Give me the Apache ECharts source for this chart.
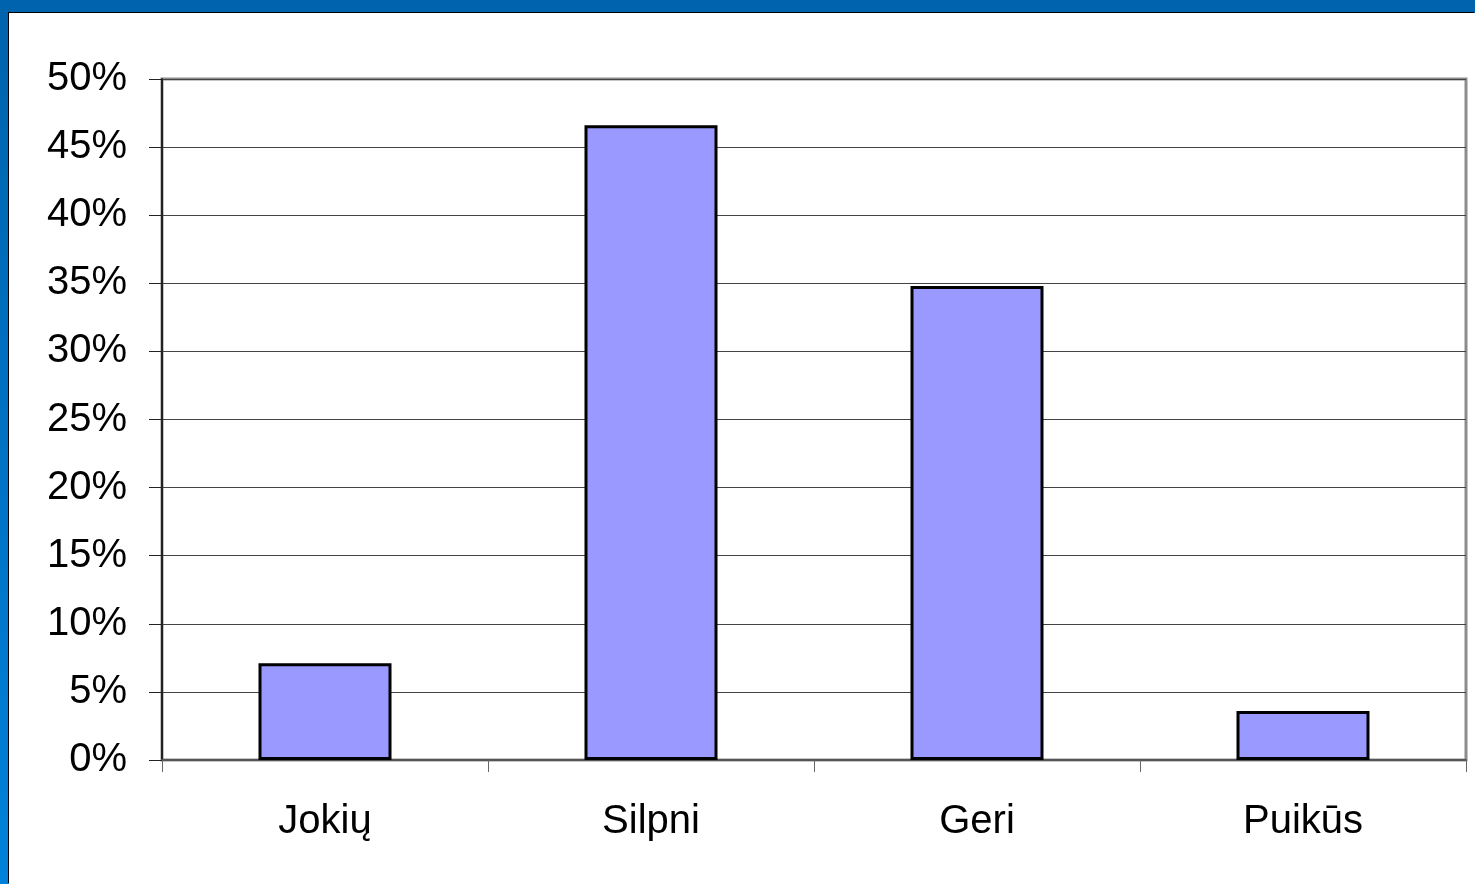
<!DOCTYPE html>
<html>
<head>
<meta charset="utf-8">
<script src="https://cdn.jsdelivr.net/npm/echarts@6/dist/echarts.min.js"></script>
<style>
  html, body { margin: 0; padding: 0; width: 1475px; height: 884px; overflow: hidden; }
  body { background: linear-gradient(to bottom, #0063ad 0%, #0072c4 50%, #0082da 100%); }
  #chart {
    position: absolute; left: 9px; top: 13px; width: 1466px; height: 871px;
    background: #fff; box-shadow: -1px -1px 0 #000;
  }
</style>
</head>
<body>
<div id="chart"></div>
<script>
const categories = ['Jokių', 'Silpni', 'Geri', 'Puikūs'];
const shares = [0.071, 0.466, 0.348, 0.036];

const chart = echarts.init(document.getElementById('chart'));
chart.setOption({
  animation: false,
  textStyle: { fontFamily: 'Liberation Sans, Arial, sans-serif' },
  grid: {
    left: 153, right: 9, top: 66, bottom: 124,
    show: true, borderColor: '#8c8c8c', borderWidth: 3
  },
  xAxis: {
    type: 'category',
    data: categories,
    boundaryGap: true,
    axisLine: { lineStyle: { color: '#555', width: 2 } },
    axisTick: { show: true, length: 12, lineStyle: { color: '#666', width: 1 } },
    axisLabel: { fontSize: 40, color: '#000', margin: 42 },
    splitLine: { show: false }
  },
  yAxis: {
    type: 'value',
    min: 0, max: 0.5, interval: 0.05,
    axisLine: { show: true, lineStyle: { color: '#222', width: 2 } },
    axisTick: { show: true, length: 13, lineStyle: { color: '#222', width: 1 } },
    axisLabel: {
      fontSize: 40, color: '#000', margin: 35,
      formatter: v => Math.round(v * 100) + '%'
    },
    splitLine: { lineStyle: { color: '#444', width: 1 } }
  },
  series: [{
    type: 'bar',
    data: shares,
    barWidth: 133,
    itemStyle: { color: '#9999ff', borderColor: '#000', borderWidth: 3 }
  }]
});
</script>
</body>
</html>
